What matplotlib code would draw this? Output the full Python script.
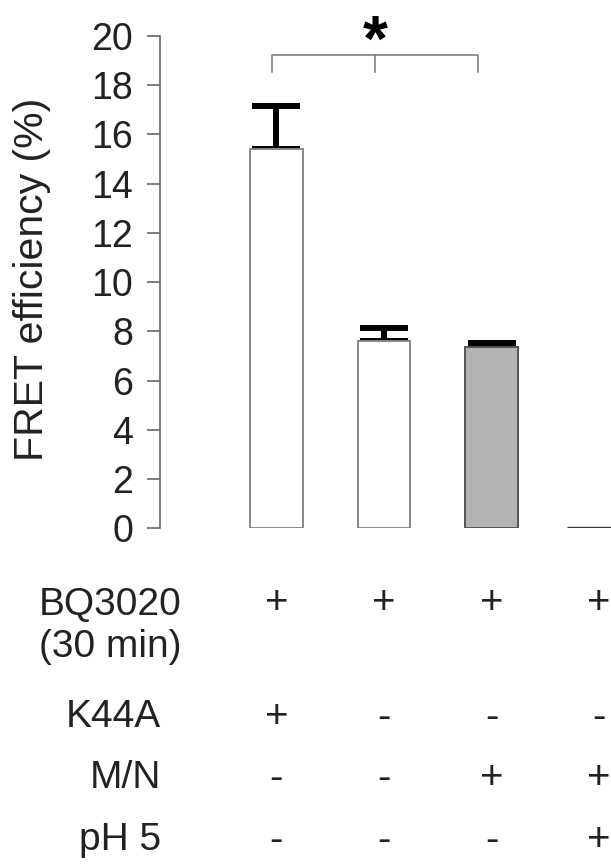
import matplotlib
matplotlib.use("Agg")
import matplotlib.pyplot as plt
import matplotlib.transforms as mtransforms

plt.rcParams["font.family"] = ["Liberation Sans", "DejaVu Sans"]

# bar data (FRET efficiency, %)
values = [15.42, 7.61, 7.36, 0.0]
errors = [1.72, 0.53, 0.18, 0.0]
fills = ["white", "white", "#b3b3b3", "white"]
edges = ["#888888", "#888888", "#555555", "#333333"]

# treatment table under the bars
row_labels = ["BQ3020\n(30 min)", "K44A", "M/N", "pH 5"]
row_signs = [
    ["+", "+", "+", "+"],
    ["+", "-", "-", "-"],
    ["-", "-", "+", "+"],
    ["-", "-", "-", "+"],
]
yticks = list(range(0, 21, 2))

TXT = "#222222"

fig = plt.figure(figsize=(6.11, 8.66), dpi=100)
ax = fig.add_axes([160 / 611, 1 - 528.3 / 866, 493 / 611, (528.3 - 36) / 866])

xs = list(range(len(values)))
lower = [0] * len(values)
ax.bar(xs, values, width=0.49, color=fills, edgecolor=edges,
       linewidth=[1.4, 1.4, 1.4, 1.4], zorder=3)
# the empty last condition shows as a flat dark line on the baseline
ax.hlines(values[3], xs[3] - 0.3, xs[3] + 0.3, color="#333333", lw=2.4, zorder=4)
ax.errorbar(xs[:3], values[:3], yerr=[lower[:3], errors[:3]], fmt="none",
            ecolor="black", elinewidth=4.3, capsize=17, capthick=4.3, zorder=2)

ax.set_xlim(-1.08, 3.5)
ax.set_ylim(0, 20)
ax.set_yticks(yticks)
ax.tick_params(axis="y", direction="out", length=9.4, width=1.2, color="#666666",
               labelsize=27, labelcolor=TXT, pad=10)
ax.set_xticks([])
for side in ["top", "right", "bottom"]:
    ax.spines[side].set_visible(False)
ax.spines["left"].set_color("#666666")
ax.spines["left"].set_linewidth(1.2)
ax.set_ylabel("FRET efficiency (%)", fontsize=29.5, color=TXT)
ax.yaxis.set_label_coords(-0.222, 0.505)

# significance bracket
bx0, bx1 = -0.035, 1.87
bmid = (bx0 + bx1) / 2
ytop, ybot = 19.21, 18.54
ax.plot([bx0, bx0, bx1, bx1], [ybot, ytop, ytop, ybot], color="#777777", lw=1.1, clip_on=False)
ax.plot([bmid, bmid], [ytop, ybot], color="#777777", lw=1.1, clip_on=False)
ax.text(bmid, 19.0, "*", ha="center", va="baseline", fontsize=46, fontweight="bold", clip_on=False)

# table text: x follows the bars, y in figure fraction
trans = mtransforms.blended_transform_factory(ax.transData, fig.transFigure)
row_y = [603, 717, 778, 840]
for label, signs, y in zip(row_labels, row_signs, row_y):
    yf = 1 - y / 866
    if "\n" in label:
        fig.text(110 / 611, 1 - 626 / 866, label, ha="center", va="center",
                 multialignment="center", fontsize=28, color=TXT, linespacing=1.2)
    else:
        fig.text(161 / 611, yf, label, ha="right", va="center", fontsize=28, color=TXT)
    for x, s in zip(xs, signs):
        ax.text(x, yf, s, transform=trans, ha="center", va="center", fontsize=29,
                color=TXT, clip_on=False)

fig.savefig("out.png", dpi=100)
